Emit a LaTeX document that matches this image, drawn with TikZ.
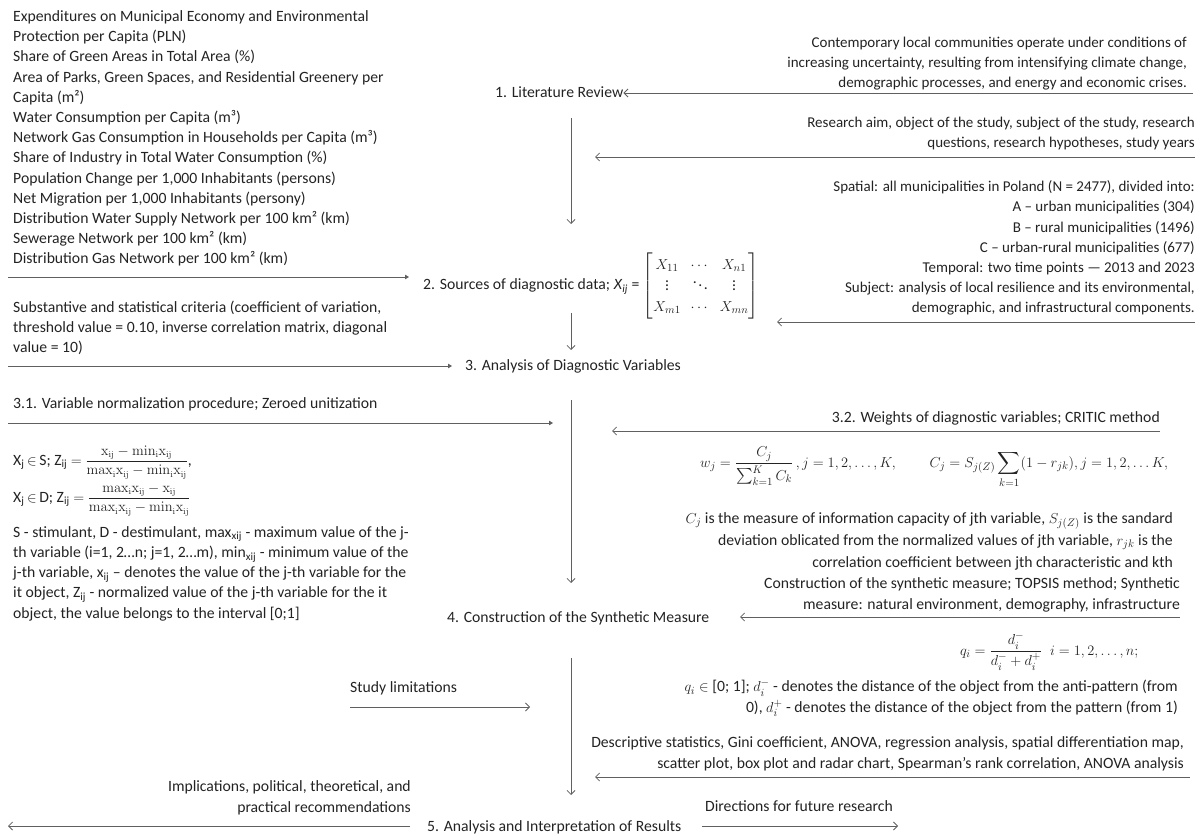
\documentclass[tikz,border=0pt]{standalone}
\usepackage{amsmath,amssymb}
\usepackage[no-math]{fontspec}
\setmainfont{Carlito}
\usepackage{tikz}
\usetikzlibrary{arrows.meta, positioning, calc}
\definecolor{inkgray}{RGB}{35,35,35}
\definecolor{linegray}{RGB}{96,96,96}

% small upright fraction of the normalization formulas
\newcommand{\normfrac}[2]{{\fontsize{13.5}{14}\selectfont$\displaystyle\frac{\mathrm{#1}}{\mathrm{#2}}$}}

\tikzset{
  txt/.style={inner sep=0pt, text=inkgray, align=left},
  rtxt/.style={inner sep=0pt, text=inkgray, align=right},
  small/.style={font=\fontsize{15}{20.2}\selectfont},
  flow/.style={linegray, line width=0.8pt, -{Straight Barb[length=4pt,width=8pt]}},
  flowfill/.style={linegray, line width=0.8pt, -{Triangle[length=4pt,width=4.5pt]}},
}

\begin{document}
\begin{tikzpicture}[x=1pt, y=-1pt, font=\fontsize{15.7}{20.2}\selectfont]
\useasboundingbox (0,0) rectangle (1203,834);

% Diagnostic variables and criteria (left column), anchored at the last baseline
\node[txt, anchor=base west] (vars) at (13,264) {Expenditures on Municipal Economy and Environmental\\
Protection per Capita (PLN)\\
Share of Green Areas in Total Area (\%)\\
Area of Parks, Green Spaces, and Residential Greenery per\\
Capita (m²)\\
Water Consumption per Capita (m³)\\
Network Gas Consumption in Households per Capita (m³)\\
Share of Industry in Total Water Consumption (\%)\\
Population Change per 1,000 Inhabitants (persons)\\
Net Migration per 1,000 Inhabitants (persony)\\
Distribution Water Supply Network per 100 km² (km)\\
Sewerage Network per 100 km² (km)\\
Distribution Gas Network per 100 km² (km)};
\node[txt, anchor=base west] (crit) at (13,353) {Substantive and statistical criteria (coefficient of variation,\\
threshold value = 0.10, inverse correlation matrix, diagonal\\
value = 10)};
\node[txt, anchor=base west] (norm) at (13,409) {3.1. Variable normalization procedure; Zeroed unitization};
\node[txt, anchor=base west] (fs) at (13,465) {X\textsubscript{j}\,$\in$\,S; Z\textsubscript{ij} $=$ \normfrac{x_{ij}-min_ix_{ij}}{max_ix_{ij}-min_ix_{ij}},};
\node[txt, anchor=base west] (fd) at (13,502) {X\textsubscript{j}\,$\in$\,D; Z\textsubscript{ij} $=$ \normfrac{max_ix_{ij}-x_{ij}}{max_ix_{ij}-min_ix_{ij}}};
\node[txt, anchor=base west] (legend) at (13,618) {S - stimulant, D - destimulant, max\textsubscript{xij} - maximum value of the j-\\
th variable (i=1, 2…n; j=1, 2…m), min\textsubscript{xij} - minimum value of the\\
j-th variable, x\textsubscript{ij} – denotes the value of the j-th variable for the\\
it object, Z\textsubscript{ij} - normalized value of the j-th variable for the it\\
object, the value belongs to the interval [0;1]};
\node[txt, anchor=base west] (limits) at (350,692) {Study limitations};
\node[rtxt, anchor=base east] (implic) at (411,812) {Implications, political, theoretical, and\\practical recommendations};

% Main stages
\node[txt, anchor=base west] (lit) at (495,98) {1. Literature Review};
\node[txt, anchor=west] (src) at (423,286) {2. Sources of diagnostic data; \textit{X}\textsubscript{\textit{ij}} = $\begin{bmatrix} X_{11} & \cdots & X_{n1}\\ \vdots & \ddots & \vdots\\ X_{m1} & \cdots & X_{mn}\end{bmatrix}$};
\node[txt, anchor=base west] (anal) at (465,371) {3. Analysis of Diagnostic Variables};
\node[txt, anchor=base west] (constr) at (447,622) {4. Construction of the Synthetic Measure};
\node[txt, anchor=base west] (results) at (427,831) {5. Analysis and Interpretation of Results};

% Inputs (right column), anchored at the last baseline
\node[rtxt, small, anchor=base east] (ctx) at (1187,88) {Contemporary local communities operate under conditions of\\
increasing uncertainty, resulting from intensifying climate change,\\
demographic processes, and energy and economic crises.};
\node[rtxt, small, anchor=base east] (aim) at (1195,148) {Research aim, object of the study, subject of the study, research\\
questions, research hypotheses, study years};
\node[rtxt, small, anchor=base east] (scope) at (1195,313) {Spatial: all municipalities in Poland (N = 2477), divided into:\\
A – urban municipalities (304)\\
B – rural municipalities (1496)\\
C – urban-rural municipalities (677)\\
Temporal: two time points — 2013 and 2023\\
Subject: analysis of local resilience and its environmental,\\
demographic, and infrastructural components.};
\node[rtxt, anchor=base east] (critic) at (1160,422) {3.2. Weights of diagnostic variables; CRITIC method};
\node[txt, anchor=base west] (wform) at (700,467) {$\displaystyle w_j=\frac{C_j}{\sum_{k=1}^{K}C_k}\,,j=1,2,\ldots,K,\qquad C_j=S_{j(Z)}\sum_{k=1}(1-r_{jk}),j=1,2,\ldots K,$};
\node[rtxt, anchor=base east, font=\fontsize{15.7}{22}\selectfont] (cjtext) at (1173,567) {$C_j$ is the measure of information capacity of jth variable, $S_{j(Z)}$ is the sandard\\
deviation oblicated from the normalized values of jth variable, $r_{jk}$ is the\\
correlation coefficient between jth characteristic and kth};
\node[rtxt, anchor=base east] (topsis) at (1180,609) {Construction of the synthetic measure; TOPSIS method; Synthetic\\
measure: natural environment, demography, infrastructure};
\node[txt, anchor=base west] (qform) at (960,655) {$\displaystyle q_i=\frac{d_i^-}{d_i^-+d_i^+}\;\; i=1,2,\ldots,n;$};
\node[rtxt, anchor=base east] (qtext) at (1178,712) {$q_i\in$ [0; 1]; $d_i^-$ - denotes the distance of the object from the anti-pattern (from\\
0), $d_i^+$ - denotes the distance of the object from the pattern (from 1)};
\node[rtxt, anchor=base east] (stats) at (1184,768) {Descriptive statistics, Gini coefficient, ANOVA, regression analysis, spatial differentiation map,\\
scatter plot, box plot and radar chart, Spearman’s rank correlation, ANOVA analysis};
\node[txt, anchor=base west] (future) at (705,811) {Directions for future research};

% Arrow ends
\coordinate (ctxR) at (1193,93);
\coordinate (aimR) at (1195,157);   \coordinate (aimL) at (595,157);
\coordinate (scopeR) at (1195,322); \coordinate (scopeL) at (777,322);
\coordinate (varsL) at (8,277);     \coordinate (varsR) at (409,277);
\coordinate (critL) at (8,366);     \coordinate (critR) at (452,366);
\coordinate (normL) at (8,423);     \coordinate (normR) at (553,423);
\coordinate (criticR) at (1160,431); \coordinate (criticL) at (612,431);
\coordinate (topsisR) at (1180,617); \coordinate (topsisL) at (740,617);
\coordinate (statsR) at (1190,777); \coordinate (statsL) at (595,777);
\coordinate (limitsL) at (350,707); \coordinate (limitsR) at (530,707);
\coordinate (implicR) at (410,826); \coordinate (implicL) at (8,826);
\coordinate (futureL) at (702,826); \coordinate (futureR) at (898,826);

% Inputs into the stages
\draw[flow] (ctxR) -- (ctxR -| lit.east);
\draw[flow] (aimR) -- (aimL);
\draw[flow] (scopeR) -- (scopeL);
\draw[flowfill] (varsL) -- (varsR);
\draw[flowfill] (critL) -- (critR);
\draw[flowfill] (normL) -- (normR);
\draw[flow] (criticR) -- (criticL);
\draw[flow] (topsisR) -- (topsisL);
\draw[flow] (statsR) -- (statsL);
\draw[flow] (limitsL) -- (limitsR);
\draw[flow] (implicR) -- (implicL);
\draw[flow] (futureL) -- (futureR);

% Main spine
\foreach \a/\b in {118/224, 313/350, 400/583, 658/795} {
  \coordinate (top\a) at (571,\a);
  \coordinate (bot\a) at (571,\b);
  \draw[flow] (top\a) -- (bot\a);
}
\end{tikzpicture}
\end{document}
